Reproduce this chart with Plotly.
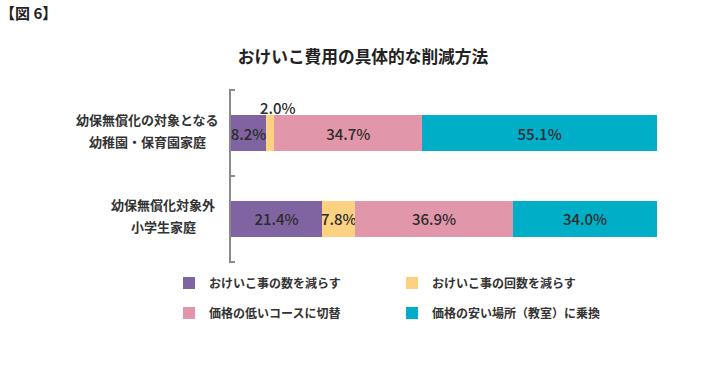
import plotly.graph_objects as go

# ---- data ----
categories = ["幼保無償化の対象となる幼稚園・保育園家庭", "幼保無償化対象外小学生家庭"]
category_lines = [["幼保無償化の対象となる", "幼稚園・保育園家庭"],
                  ["幼保無償化対象外", "小学生家庭"]]
series_names = ["おけいこ事の数を減らす", "おけいこ事の回数を減らす",
                "価格の低いコースに切替", "価格の安い場所（教室）に乗換"]
reduce_count = [8.2, 21.4]
reduce_times = [2.0, 7.8]
cheaper_course = [34.7, 36.9]
cheaper_place = [55.1, 34.0]
title_text = "おけいこ費用の具体的な削減方法"
fig_label = "【図 6】"

# ---- style ----
colors = ["#8064A2", "#FDD182", "#E196A9", "#00AEC7"]
FONT = "Noto Sans CJK JP"
TXT = "#2b2b2b"
AXC = "#8a8a8a"
W, H = 705, 369
L, R, T, B = 231, 48, 89, 106
plot_w = W - L - R
plot_h = H - T - B

series = [reduce_count, reduce_times, cheaper_course, cheaper_place]
legends = ["legend", "legend", "legend2", "legend2"]
n_cat = len(categories)
cat_pos = list(range(n_cat))            # category slots on the y axis
boundaries = [i - 0.5 for i in range(n_cat + 1)]

fig = go.Figure()
for i, (name, vals) in enumerate(zip(series_names, series)):
    texts = [f"{v:.1f}%" for v in vals]
    # the small 2.0% segment is labelled above the bar
    if i == 1:
        texts = ["" if v < 3 else t for v, t in zip(vals, texts)]
    fig.add_trace(go.Bar(
        y=cat_pos, x=vals, name=name, orientation="h",
        customdata=categories,
        marker=dict(color=colors[i], line=dict(width=0)),
        text=texts, textposition="inside", insidetextanchor="middle",
        textangle=0,
        textfont=dict(family=FONT, size=15, color=TXT, weight=500),
        width=0.41, legend=legends[i], hoverinfo="skip",
    ))

# label for tiny segment above bar
for ci, v in enumerate(reduce_times):
    if v < 3:
        fig.add_annotation(
            x=reduce_count[ci] + v / 2, y=cat_pos[ci], xref="x", yref="y",
            text=f"{v:.1f}%", showarrow=False, xshift=8, yshift=26,
            font=dict(family=FONT, size=15, color=TXT, weight=500))

# category labels (two centred lines each)
label_centers_px = [147, 163]
for ci, lines in enumerate(category_lines):
    for li, line in enumerate(lines):
        fig.add_annotation(
            x=(label_centers_px[ci] - L) / plot_w, xref="paper",
            y=cat_pos[ci], yref="y", text=line, showarrow=False,
            xanchor="center", yanchor="middle", yshift=14 if li == 0 else -8,
            font=dict(family=FONT, size=13, color="#333333", weight="bold"))

# figure label
fig.add_annotation(
    x=(-2 - L) / plot_w, y=1 + (T - 13) / plot_h, xref="paper", yref="paper",
    text=fig_label, showarrow=False, xanchor="left", yanchor="middle",
    font=dict(family=FONT, size=15, color="#222222", weight="bold"))

legend_common = dict(
    orientation="h", xanchor="left", yanchor="middle", traceorder="normal",
    font=dict(family=FONT, size=12, color="#333333", weight="bold"),
    entrywidth=178, entrywidthmode="pixels", bgcolor="rgba(0,0,0,0)",
    itemclick=False, itemdoubleclick=False,
)

pad = 0.012
fig.update_layout(
    width=W, height=H, barmode="stack",
    margin=dict(l=L, r=R, t=T, b=B, autoexpand=False),
    paper_bgcolor="white", plot_bgcolor="white",
    title=dict(text=title_text, x=363 / W, xanchor="center", y=1 - 57 / H,
               yanchor="middle",
               font=dict(family=FONT, size=16.7, color="#222222", weight="bold")),
    xaxis=dict(range=[0, 100], visible=False, fixedrange=True),
    yaxis=dict(type="linear", range=[n_cat - 0.5 + pad, -0.5 - pad],
               tickvals=boundaries, showticklabels=False,
               ticks="inside", ticklen=4, tickcolor=AXC, tickwidth=1.5,
               showline=True, linecolor=AXC, linewidth=1.5,
               showgrid=False, zeroline=False, fixedrange=True),
    uniformtext=dict(minsize=15, mode="show"),
    legend=dict(x=(169 - L) / plot_w, y=(H - B - 283) / plot_h, **legend_common),
    legend2=dict(x=(169 - L) / plot_w, y=(H - B - 313) / plot_h, **legend_common),
    showlegend=True,
)

fig.write_html("out.html", config={"displayModeBar": False},
               post_script="document.body.style.margin='0';")
